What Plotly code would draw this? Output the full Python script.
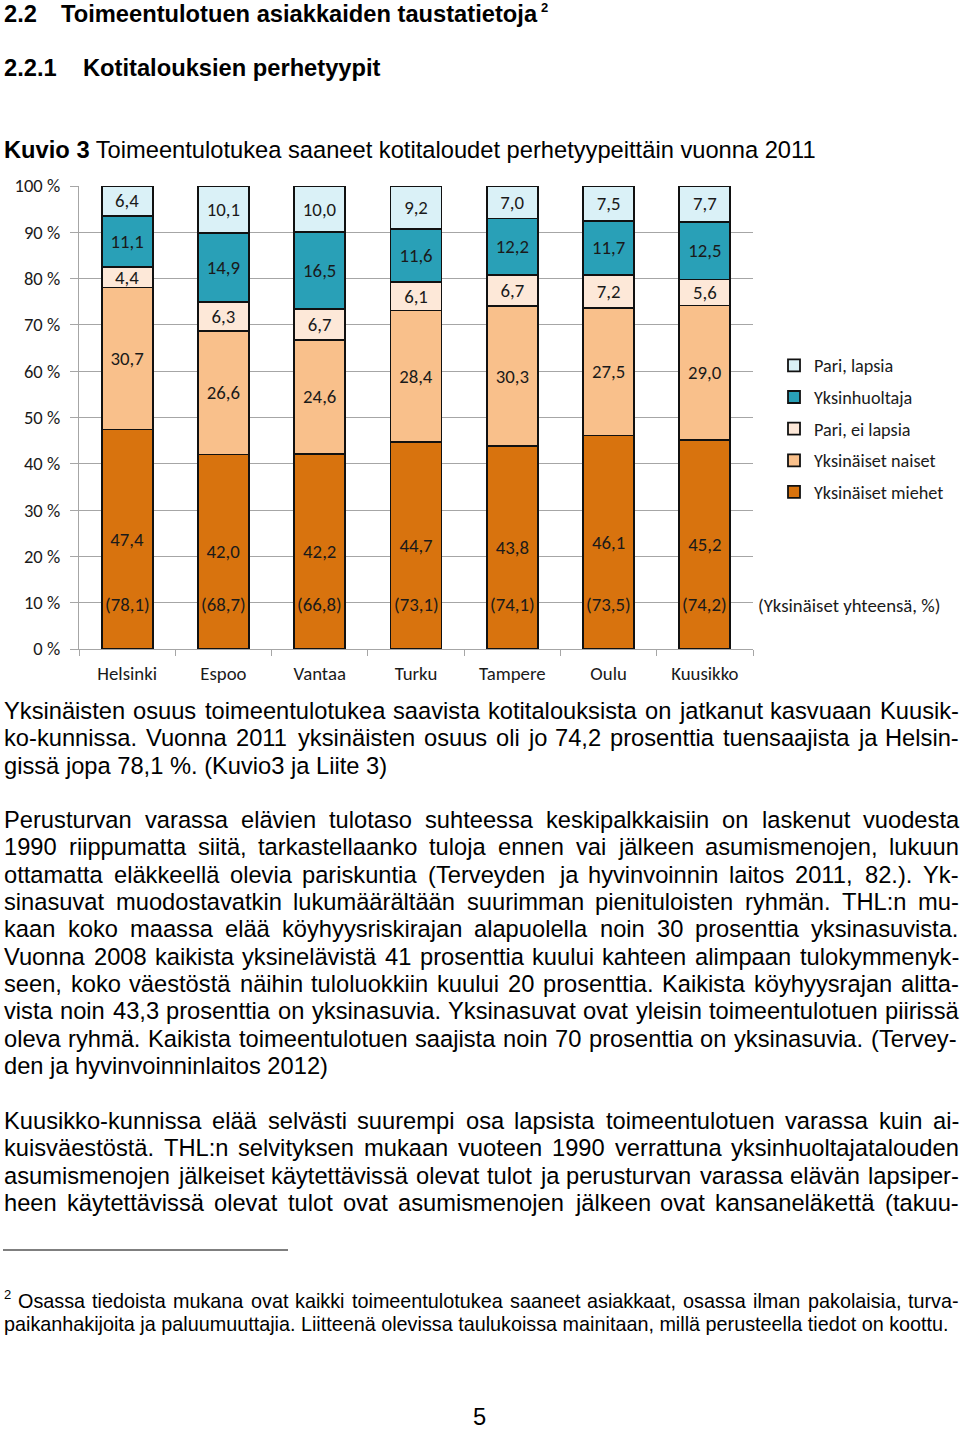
import plotly.graph_objects as go

# ---------------- data ----------------
cities = ["Helsinki", "Espoo", "Vantaa", "Turku", "Tampere", "Oulu", "Kuusikko"]
yksinaiset_miehet = [47.4, 42.0, 42.2, 44.7, 43.8, 46.1, 45.2]
yksinaiset_naiset = [30.7, 26.6, 24.6, 28.4, 30.3, 27.5, 29.0]
pari_ei_lapsia = [4.4, 6.3, 6.7, 6.1, 6.7, 7.2, 5.6]
yksinhuoltaja = [11.1, 14.9, 16.5, 11.6, 12.2, 11.7, 12.5]
pari_lapsia = [6.4, 10.1, 10.0, 9.2, 7.0, 7.5, 7.7]
yksinaiset_yhteensa = [78.1, 68.7, 66.8, 73.1, 74.1, 73.5, 74.2]
y_tick_vals = [0, 10, 20, 30, 40, 50, 60, 70, 80, 90, 100]
y_tick_text = ["0 %", "10 %", "20 %", "30 %", "40 %", "50 %", "60 %", "70 %", "80 %", "90 %", "100 %"]

series = [
    ("Yksinäiset miehet", yksinaiset_miehet, "#D8730E"),
    ("Yksinäiset naiset", yksinaiset_naiset, "#F9C08B"),
    ("Pari, ei lapsia", pari_ei_lapsia, "#FDE8D8"),
    ("Yksinhuoltaja", yksinhuoltaja, "#29A0B7"),
    ("Pari, lapsia", pari_lapsia, "#DAF1F7"),
]

# ---------------- text ----------------
heading1_num = "2.2"
heading1_text = "Toimeentulotuen asiakkaiden taustatietoja"
heading1_sup = "2"
heading2_num = "2.2.1"
heading2_text = "Kotitalouksien perhetyypit"
caption = "<b>Kuvio 3</b> Toimeentulotukea saaneet kotitaloudet perhetyypeittäin vuonna 2011"
total_label = "(Yksinäiset yhteensä, %)"

paragraph1 = [
    "Yksinäisten osuus toimeentulotukea saavista kotitalouksista on jatkanut kasvuaan Kuusik-",
    "ko-kunnissa. Vuonna 2011 yksinäisten osuus oli jo 74,2 prosenttia tuensaajista ja Helsin-",
    "gissä jopa 78,1 %. (Kuvio3 ja Liite 3)",
]
paragraph2 = [
    "Perusturvan varassa elävien tulotaso suhteessa keskipalkkaisiin on laskenut vuodesta",
    "1990 riippumatta siitä, tarkastellaanko tuloja ennen vai jälkeen asumismenojen, lukuun",
    "ottamatta eläkkeellä olevia pariskuntia (Terveyden ja hyvinvoinnin laitos 2011, 82.). Yk-",
    "sinasuvat muodostavatkin lukumäärältään suurimman pienituloisten ryhmän. THL:n mu-",
    "kaan koko maassa elää köyhyysriskirajan alapuolella noin 30 prosenttia yksinasuvista.",
    "Vuonna 2008 kaikista yksinelävistä 41 prosenttia kuului kahteen alimpaan tulokymmenyk-",
    "seen, koko väestöstä näihin tuloluokkiin kuului 20 prosenttia. Kaikista köyhyysrajan alitta-",
    "vista noin 43,3 prosenttia on yksinasuvia. Yksinasuvat ovat yleisin toimeentulotuen piirissä",
    "oleva ryhmä. Kaikista toimeentulotuen saajista noin 70 prosenttia on yksinasuvia. (Tervey-",
    "den ja hyvinvoinninlaitos 2012)",
]
paragraph3 = [
    "Kuusikko-kunnissa elää selvästi suurempi osa lapsista toimeentulotuen varassa kuin ai-",
    "kuisväestöstä. THL:n selvityksen mukaan vuoteen 1990 verrattuna yksinhuoltajatalouden",
    "asumismenojen jälkeiset käytettävissä olevat tulot ja perusturvan varassa elävän lapsiper-",
    "heen käytettävissä olevat tulot ovat asumismenojen jälkeen ovat kansaneläkettä (takuu-",
]
footnote = [
    "Osassa tiedoista mukana ovat kaikki toimeentulotukea saaneet asiakkaat, osassa ilman pakolaisia, turva-",
    "paikanhakijoita ja paluumuuttajia. Liitteenä olevissa taulukoissa mainitaan, millä perusteella tiedot on koottu.",
]
page_number = "5"

# ---------------- layout geometry (page pixels) ----------------
W, H = 960, 1429
PL, PR, PT, PB = 79, 753, 186, 649


def px(x):
    return (x - PL) / (PR - PL)


def py(y):
    return (PB - y) / (PB - PT)


BODY_FONT = "Liberation Sans, Arial, sans-serif"
CHART_FONT = "Carlito, Lato, Calibri, sans-serif"
BODY_SIZE = 23.7
FOOT_SIZE = 19.8
CHART_SIZE = 18.8

# Arial / Liberation Sans advance widths (1/1000 em)
AW = {' ': 278, ',': 278, '-': 333, '.': 278, ':': 278, '(': 333, ')': 333, '%': 889,
      'a': 556, 'b': 556, 'c': 500, 'd': 556, 'e': 556, 'f': 278, 'g': 556, 'h': 556,
      'i': 222, 'j': 222, 'k': 500, 'l': 222, 'm': 833, 'n': 556, 'o': 556, 'p': 556,
      'q': 556, 'r': 333, 's': 500, 't': 278, 'u': 556, 'v': 500, 'w': 722, 'x': 500,
      'y': 500, 'z': 500, 'ä': 556, 'ö': 556, 'å': 556,
      'A': 667, 'B': 667, 'C': 722, 'D': 722, 'E': 667, 'F': 611, 'G': 778, 'H': 722,
      'I': 278, 'J': 500, 'K': 667, 'L': 556, 'M': 833, 'N': 722, 'O': 778, 'P': 667,
      'R': 722, 'S': 667, 'T': 611, 'U': 722, 'V': 667, 'W': 944, 'Y': 667, 'Ä': 667}


def text_w(s, fs):
    return sum(AW.get(c, 556) for c in s) * fs / 1000.0


def fmt(v):
    return f"{v:.1f}".replace(".", ",")


fig = go.Figure()
n_series = len(series)
for i, (name, vals, color) in enumerate(series):
    fig.add_trace(go.Bar(
        x=cities, y=vals, name=name, legendgroup=name, legendrank=n_series - i,
        marker=dict(color=color, line=dict(color="#111111", width=1.8)),
        text=[fmt(v) for v in vals], textposition="inside", insidetextanchor="middle",
        textangle=0, constraintext="none",
        textfont=dict(family=CHART_FONT, size=CHART_SIZE, color="#1a1a1a"),
        hoverinfo="skip",
    ))

annotations = []
# totals inside bars
for c, t in zip(cities, yksinaiset_yhteensa):
    annotations.append(dict(x=c, y=9.6, xref="x", yref="y", text=f"({fmt(t)})",
                            showarrow=False,
                            font=dict(family=CHART_FONT, size=CHART_SIZE, color="#1a1a1a")))
annotations.append(dict(x=px(756), y=py(605), xref="paper", yref="paper", xanchor="left",
                        yanchor="middle", text=total_label, showarrow=False,
                        font=dict(family=CHART_FONT, size=CHART_SIZE, color="#1a1a1a")))


def add_text(x, y, text, size=BODY_SIZE, xanchor="left", bold=False):
    if bold:
        text = f"<b>{text}</b>"
    annotations.append(dict(x=px(x), y=py(y), xref="paper", yref="paper", xanchor=xanchor,
                            yanchor="middle", text=text, showarrow=False,
                            font=dict(family=BODY_FONT, size=size, color="#000000")))


def add_justified(x0, x1, y, line, size):
    words = line.split(" ")
    total = sum(text_w(w, size) for w in words)
    gap = (x1 - x0 - total) / (len(words) - 1)
    x = x0
    for w in words:
        add_text(x - 1, y, w, size)
        x += text_w(w, size) + gap


def add_paragraph(lines, y0, step=27.35, x0=3, x1=958, size=BODY_SIZE):
    for i, line in enumerate(lines):
        y = y0 + i * step
        if i < len(lines) - 1:
            add_justified(x0, x1, y, line, size)
        else:
            add_text(x0 - 1, y, line, size)


add_text(2, 14, heading1_num, bold=True)
add_text(59, 14, heading1_text, bold=True)
add_text(539, 8, heading1_sup, size=13, bold=True)
add_text(2, 68, heading2_num, bold=True)
add_text(81, 68, heading2_text, bold=True)
add_text(2, 150, caption)

add_paragraph(paragraph1, 711)
add_paragraph(paragraph2, 820)
# paragraph 3: all lines justified (continues on next page)
for i, line in enumerate(paragraph3):
    add_justified(3, 958, 1121 + i * 27.35, line, BODY_SIZE)

# footnote
add_text(2, 1294, "2", size=13)
add_justified(17, 958, 1301, footnote[0], FOOT_SIZE)
add_text(2, 1324, footnote[1], size=FOOT_SIZE)

add_text(480, 1417, page_number, xanchor="center")

shapes = [dict(type="line", xref="paper", yref="paper", x0=px(3), x1=px(288),
               y0=py(1250), y1=py(1250), line=dict(color="#000000", width=1.2))]

fig.update_layout(
    width=W, height=H,
    margin=dict(l=PL, r=W - PR, t=PT, b=H - PB, autoexpand=False),
    paper_bgcolor="white", plot_bgcolor="white",
    barmode="stack", bargap=0.47,
    uniformtext=dict(minsize=CHART_SIZE, mode="show"),
    showlegend=True,
    legend=dict(x=px(774), y=py(347), xanchor="left", yanchor="top",
                traceorder="grouped", tracegroupgap=5,
                font=dict(family=CHART_FONT, size=CHART_SIZE - 0.6, color="#1a1a1a"),
                bgcolor="rgba(0,0,0,0)", itemclick=False),
    xaxis=dict(type="category", range=[-0.5, 6.5], showline=True, linecolor="#A6A6A6",
               linewidth=1.3, ticks="outside", tickson="boundaries", ticklen=6,
               tickcolor="#A6A6A6", tickwidth=1.3, showgrid=False, fixedrange=True,
               ticklabelstandoff=7,
               tickfont=dict(family=CHART_FONT, size=CHART_SIZE, color="#1a1a1a")),
    yaxis=dict(range=[0, 100], tickvals=y_tick_vals, ticktext=y_tick_text,
               showline=True, linecolor="#A6A6A6", linewidth=1.3, ticks="outside",
               ticklen=8, tickcolor="#A6A6A6", tickwidth=1.3, showgrid=True,
               gridcolor="#A6A6A6", gridwidth=1.3, zeroline=False, fixedrange=True,
               ticklabelstandoff=6,
               tickfont=dict(family=CHART_FONT, size=CHART_SIZE - 0.3, color="#1a1a1a")),
    annotations=annotations,
    shapes=shapes,
    font=dict(family=CHART_FONT),
)

fig.write_html("out.html", config={"displayModeBar": False},
               post_script="document.body.style.margin='0';")
